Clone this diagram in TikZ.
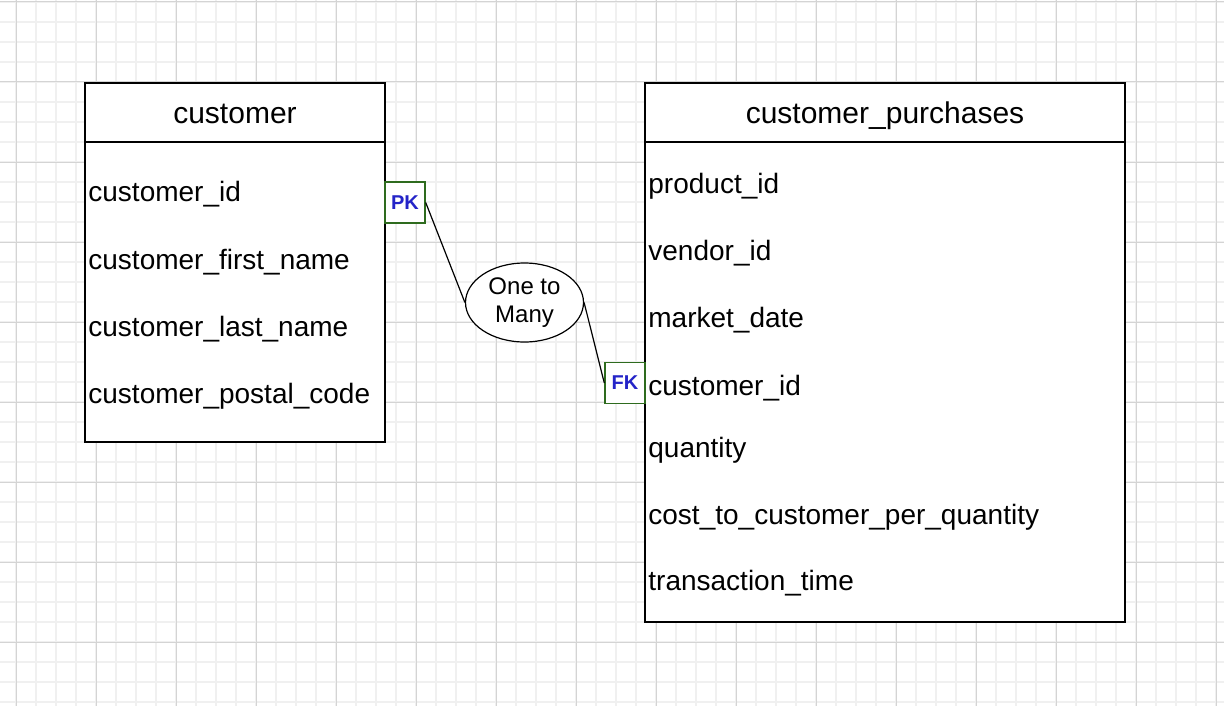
\documentclass[tikz,border=0pt]{standalone}
\usepackage{fontspec}
\setmainfont{Liberation Sans}
\usepackage{tikz}
\usetikzlibrary{shapes.geometric}

\definecolor{gridminor}{HTML}{F0F0F0}
\definecolor{gridmajor}{HTML}{D4D4D4}
\definecolor{keygreen}{HTML}{2E6B1E}
\definecolor{keyblue}{HTML}{2424C8}

\tikzset{
  attr/.style={anchor=base west, inner sep=0pt, font=\fontsize{14pt}{16pt}\selectfont},
  tabtitle/.style={anchor=base, inner sep=0pt, font=\fontsize{15pt}{17pt}\selectfont},
  keybox/.style={draw=keygreen, line width=0.7pt, fill=white, minimum width=20pt, minimum height=20.5pt,
    inner sep=0pt, text=keyblue, font=\fontsize{10pt}{12pt}\selectfont\bfseries},
  relation/.style={draw, ellipse, line width=0.6pt, fill=white, minimum width=59pt, minimum height=39.5pt,
    inner sep=0pt, align=center, font=\fontsize{12pt}{14pt}\selectfont},
  link/.style={line width=0.6pt}
}

\begin{document}
\begin{tikzpicture}[x=0.5pt, y=-0.5pt]
\useasboundingbox (0,0) rectangle (1224,706);
% grid
\foreach \x in {-4,16,...,1224} \draw [gridminor, line width=0.6pt] (\x,0) -- (\x,706);
\foreach \y in {2,22,...,706} \draw [gridminor, line width=0.6pt] (0,\y) -- (1224,\y);
\foreach \x in {16,96,...,1224} \draw [gridmajor, line width=0.5pt] (\x,0) -- (\x,706);
\foreach \y in {2,82,...,706} \draw [gridmajor, line width=0.5pt] (0,\y) -- (1224,\y);
% customer
\draw [fill=white, line width=1pt] (85,83) rectangle (385,442);
\draw [line width=1pt] (85,142) -- (385,142);
\node [tabtitle] (custtitle) at (235,124) {customer};
\node [attr] (custid) at (88,201) {customer\_id};
\node [attr] (custfirst) at (88,269) {customer\_first\_name};
\node [attr] (custlast) at (88,336) {customer\_last\_name};
\node [attr] (custpostal) at (88,403) {customer\_postal\_code};
% customer_purchases
\draw [fill=white, line width=1pt] (645,83) rectangle (1125,622);
\draw [line width=1pt] (645,142) -- (1125,142);
\node [tabtitle] (purchtitle) at (885,124) {customer\_purchases};
\node [attr] (prodid) at (648,193) {product\_id};
\node [attr] (vendid) at (648,260) {vendor\_id};
\node [attr] (mktdate) at (648,327) {market\_date};
\node [attr] (purchcust) at (648,395) {customer\_id};
\node [attr] (qty) at (648,457) {quantity};
\node [attr] (cost) at (648,524) {cost\_to\_customer\_per\_quantity};
\node [attr] (txtime) at (648,590) {transaction\_time};
% keys and relation
\node [keybox] (pk) at (405,202.5) {PK};
\node [keybox] (fk) at (625,383) {FK};
\node [relation] (rel) at (524.5,302.5) {One to\\Many};
\draw [link] (pk.east) -- (rel.west);
\draw [link] (rel.east) -- (fk.west);
\end{tikzpicture}
\end{document}
